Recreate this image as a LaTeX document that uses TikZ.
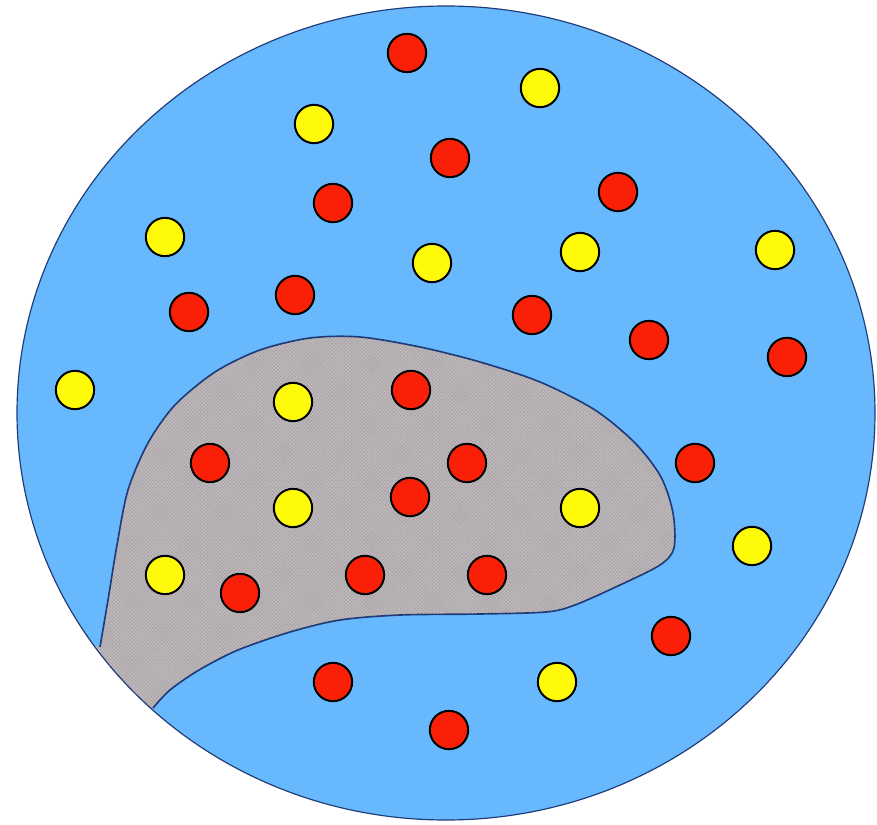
\documentclass[tikz,border=0pt]{standalone}
\usepackage{tikz}
\usetikzlibrary{patterns}

\definecolor{dishblue}{RGB}{103,184,252}
\definecolor{rimblue}{RGB}{32,60,120}
\definecolor{tissue}{RGB}{170,164,167}
\definecolor{weave}{RGB}{196,191,194}
\definecolor{dotred}{RGB}{250,32,8}
\definecolor{dotyellow}{RGB}{255,250,10}

\begin{document}
\begin{tikzpicture}[
  x=0.03cm, y=-0.03cm,
  dot/.style={circle, draw=black, line width=1.7pt, inner sep=0pt, minimum size=1.15cm},
  rdot/.style={dot, fill=dotred},
  ydot/.style={dot, fill=dotyellow}]
\useasboundingbox (0,0) rectangle (877,825);
% dish
\fill[dishblue] (446,413) ellipse [x radius=429, y radius=407];
% grey patch, clipped to the dish
\begin{scope}
  \clip (446,413) ellipse [x radius=429, y radius=407];
  \fill[tissue] (60,640) -- plot[smooth] coordinates {(100,647) (108,600) (117,545) (128,490)
    (148,443) (175,405) (215,372) (260,350) (310,338) (360,337) (420,347) (480,362)
    (540,382) (595,410) (635,443) (661,477) (673,513) (674,548) (660,565) (620,585)
    (575,605) (546,612) (480,614) (400,615) (340,620) (290,632) (238,650) (199,670)
    (170,690) (153,708)} -- (120,760) -- cycle;
  \fill[pattern=crosshatch, pattern color=weave] (60,640) -- plot[smooth] coordinates {(100,647)
    (108,600) (117,545) (128,490) (148,443) (175,405) (215,372) (260,350) (310,338)
    (360,337) (420,347) (480,362) (540,382) (595,410) (635,443) (661,477) (673,513)
    (674,548) (660,565) (620,585) (575,605) (546,612) (480,614) (400,615) (340,620)
    (290,632) (238,650) (199,670) (170,690) (153,708)} -- (120,760) -- cycle;
\end{scope}
\draw[rimblue, line width=1.4pt] plot[smooth] coordinates {(100,647) (108,600) (117,545)
    (128,490) (148,443) (175,405) (215,372) (260,350) (310,338) (360,337) (420,347)
    (480,362) (540,382) (595,410) (635,443) (661,477) (673,513) (674,548) (660,565)
    (620,585) (575,605) (546,612) (480,614) (400,615) (340,620) (290,632) (238,650)
    (199,670) (170,690) (153,708)};
\draw[rimblue, line width=1pt] (446,413) ellipse [x radius=429, y radius=407];
% dots
\foreach \x/\y [count=\i] in {407/53,450/158,333/203,618/192,189/312,295/295,532/315,
    649/340,787/357,411/390,210/463,467/463,410/497,695/463,240/593,365/575,487/575,
    671/636,333/682,449/730}
  \node[rdot] (r\i) at (\x,\y) {};
\foreach \x/\y [count=\i] in {540/88,314/124,165/237,432/263,580/252,775/250,75/390,
    293/402,293/508,580/508,752/546,165/575,557/682}
  \node[ydot] (y\i) at (\x,\y) {};
\end{tikzpicture}
\end{document}
